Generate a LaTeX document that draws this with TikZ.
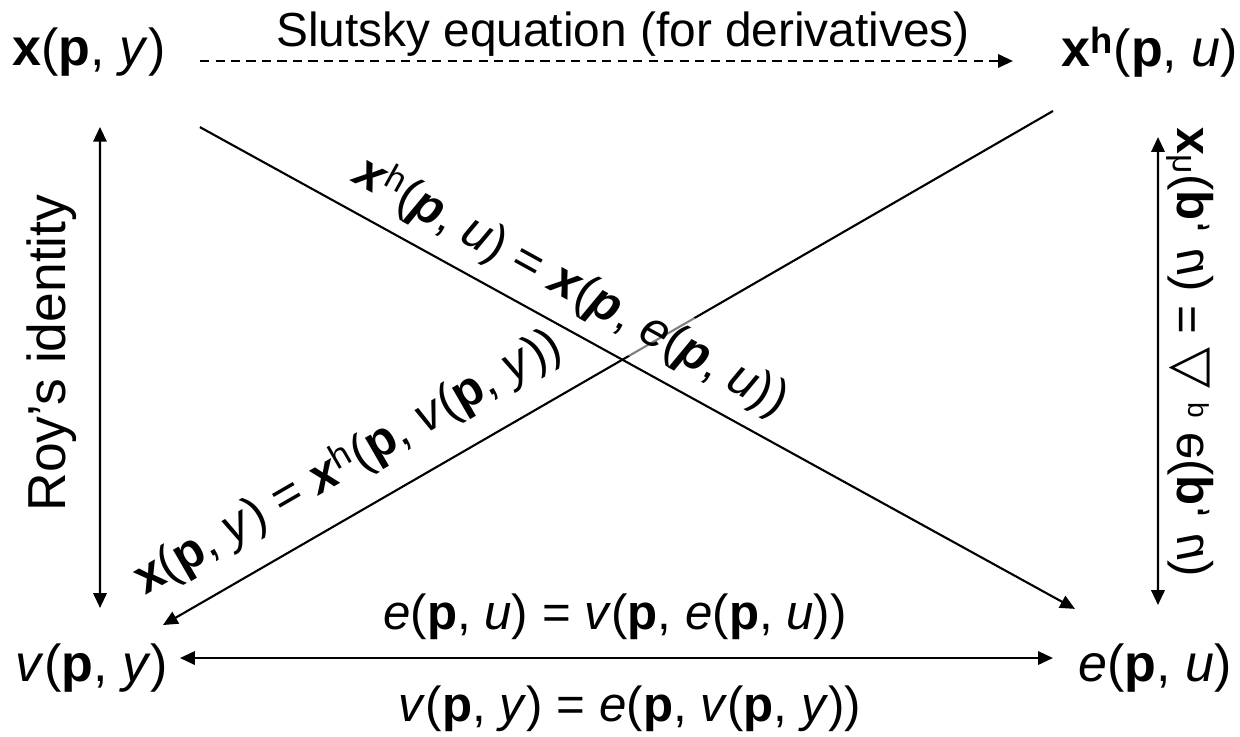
\documentclass[tikz,border=0pt]{standalone}
\usepackage{fontspec}
\setmainfont{Liberation Sans}
\newfontfamily\symfont{DejaVu Sans}
\usetikzlibrary{arrows.meta}

\begin{document}
\begin{tikzpicture}[
    x=0.025cm, y=-0.025cm,
    corner/.style={font=\fontsize{37}{40}\selectfont, inner sep=1pt},
    eqn/.style={font=\fontsize{35}{40}\selectfont, inner sep=0pt},
    link/.style={line width=1.5pt, >={Triangle[length=10.5pt, width=9.5pt]}}
]
    \useasboundingbox (0,0) rectangle (1240,736);

    \node[corner] (xpy) at (89,52) {\textbf{x}(\textbf{p}, \textit{y})};
    \node[corner] (xhpu) at (1150,52) {\textbf{x\textsuperscript{h}}(\textbf{p}, \textit{u})};
    \node[corner] (vpy) at (92,668) {\textit{v}(\textbf{p}, \textit{y})};
    \node[corner] (epu) at (1155,668) {\textit{e}(\textbf{p}, \textit{u})};

    \draw[link, ->, dash pattern=on 6.5pt off 4.5pt, shorten <=79pt, shorten >=97.5pt]
        ([yshift=-6.4pt]xpy.center) -- ([yshift=-6.4pt]xhpu.center);
    \node[eqn, font=\fontsize{34}{40}\selectfont] (slutsky) at (623,34) {Slutsky equation (for derivatives)};

    \draw[link, <->, shorten <=53.3pt, shorten >=42.7pt]
        ([xshift=7.8pt]xpy.center) -- ([xshift=5.7pt]vpy.center);
    \node[eqn, font=\fontsize{38}{40}\selectfont, rotate=90] (roy) at (52,353) {Roy’s identity};

    \draw[link, <->, shorten <=60.5pt, shorten >=44.8pt]
        ([xshift=5.7pt]xhpu.center) -- ([xshift=2.1pt]epu.center);
    \node[eqn, rotate=90, xscale=-1] (shephard) at (1190,352)
        {\textbf{x}\textsuperscript{h}(\textbf{p}, \textit{u}) = {\symfont\fontsize{38}{38}\selectfont △} {\fontsize{20}{20}\selectfont p} e(\textbf{p}, \textit{u})};

    \draw[link, <->, shorten <=62.6pt, shorten >=72.6pt]
        ([yshift=7.1pt]vpy.center) -- ([yshift=7.1pt]epu.center);
    \node[eqn] (dual1) at (615,617) {\textit{e}(\textbf{p}, \textit{u}) = \textit{v}(\textbf{p}, \textit{e}(\textbf{p}, \textit{u}))};
    \node[eqn] (dual2) at (630,709) {\textit{v}(\textbf{p}, \textit{y}) = \textit{e}(\textbf{p}, \textit{v}(\textbf{p}, \textit{y}))};

    \draw[link, ->, shorten <=79.7pt, shorten >=58.3pt]
        ([yshift=-2.1pt]xhpu.center) -- ([yshift=1.4pt]vpy.center);
    \node[eqn, rotate=-28.85, inner ysep=6pt, fill=white, fill opacity=0.5, text opacity=1] (hicks) at (571,287)
        {\textbf{\textit{x}}\textsuperscript{h}(\textbf{\textit{p}}, \textit{u}) = \textbf{\textit{x}}(\textbf{\textit{p}}, \textit{e}(\textbf{\textit{p}}, \textit{u}))};
    \draw[link, ->, shorten <=90pt, shorten >=65pt]
        ([yshift=-10pt]xpy.center) -- ([yshift=10.7pt]epu.center);
    \node[eqn, rotate=30] (marsh) at (348,463)
        {\textbf{x}(\textbf{p}, \textit{y}) = \textbf{\textit{x}}\textsuperscript{h}(\textbf{p}, \textit{v}(\textbf{p}, \textit{y}))};
\end{tikzpicture}
\end{document}
